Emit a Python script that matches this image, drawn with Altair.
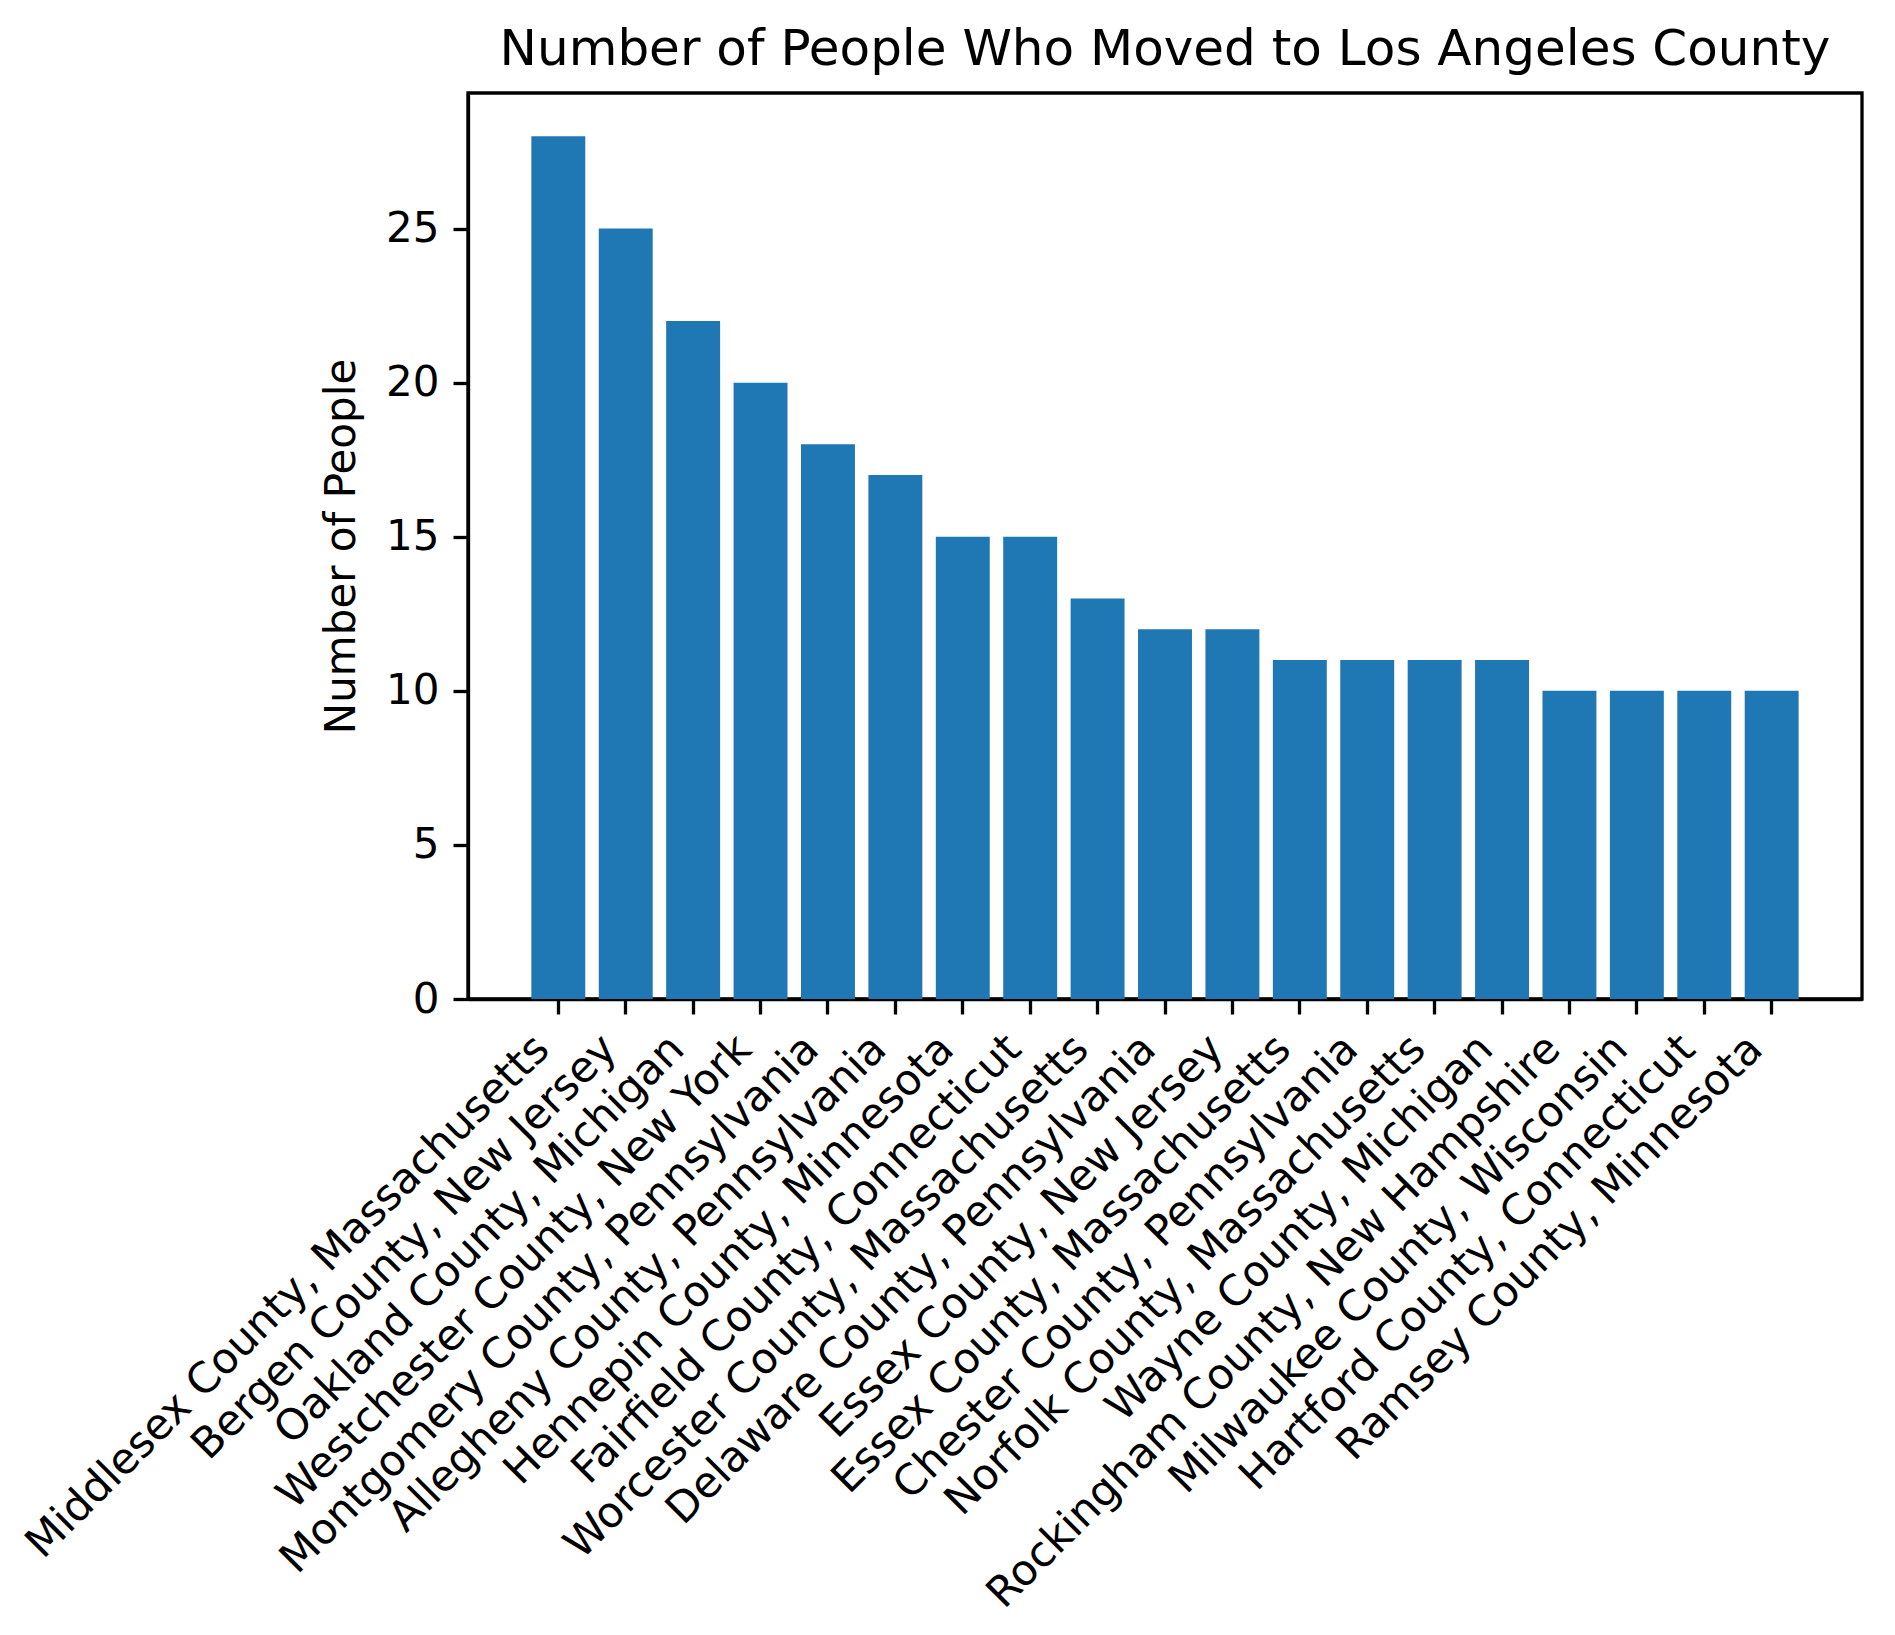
import altair as alt
import pandas as pd

counties = [
    "Middlesex County, Massachusetts",
    "Bergen County, New Jersey",
    "Oakland County, Michigan",
    "Westchester County, New York",
    "Montgomery County, Pennsylvania",
    "Allegheny County, Pennsylvania",
    "Hennepin County, Minnesota",
    "Fairfield County, Connecticut",
    "Worcester County, Massachusetts",
    "Delaware County, Pennsylvania",
    "Essex County, New Jersey",
    "Essex County, Massachusetts",
    "Chester County, Pennsylvania",
    "Norfolk County, Massachusetts",
    "Wayne County, Michigan",
    "Rockingham County, New Hampshire",
    "Milwaukee County, Wisconsin",
    "Hartford County, Connecticut",
    "Ramsey County, Minnesota",
]
people = [28, 25, 22, 20, 18, 17, 15, 15, 13, 12, 12, 11, 11, 11, 11, 10, 10, 10, 10]
y_ticks = [0, 5, 10, 15, 20, 25]

df = pd.DataFrame({"county": counties, "people": people})

FONT = "DejaVu Sans"

chart = (
    alt.Chart(df)
    .mark_bar(color="#1f77b4")
    .encode(
        x=alt.X(
            "county:N",
            sort=None,
            scale=alt.Scale(paddingInner=0.2, paddingOuter=0.94),
            axis=alt.Axis(
                title=None,
                labelAngle=-45,
                labelAlign="right",
                labelBaseline="top",
                labelFontSize=42.5,
                labelFont=FONT,
                labelColor="black",
                labelPadding=13,
                labelOffset=-31,
                labelLimit=2000,
                tickSize=15,
                tickWidth=3.3,
                tickColor="black",
                domainColor="black",
                domainWidth=3.3,
                grid=False,
            ),
        ),
        y=alt.Y(
            "people:Q",
            scale=alt.Scale(domain=[0, 29.4], nice=False, zero=True),
            axis=alt.Axis(
                title="Number of People",
                values=y_ticks,
                titleFont=FONT,
                titleFontSize=42,
                titleFontWeight="normal",
                titleColor="black",
                titlePadding=22,
                labelFontSize=42,
                labelFont=FONT,
                labelColor="black",
                labelPadding=14,
                tickSize=15,
                tickWidth=3.3,
                tickColor="black",
                domainColor="black",
                domainWidth=3.3,
                grid=False,
            ),
        ),
    )
    .properties(
        width=1394,
        height=906,
        background="white",
        title=alt.TitleParams(
            "Number of People Who Moved to Los Angeles County",
            font=FONT,
            fontSize=50,
            fontWeight="normal",
            color="black",
            anchor="middle",
            offset=18,
        ),
        autosize=alt.AutoSizeParams(type="none"),
        padding={"left": 468, "top": 93, "right": 33, "bottom": 636},
    )
    .configure_view(stroke="black", strokeWidth=3.3)
)

chart.save("out.html", embed_options={"renderer": "svg", "actions": False})
